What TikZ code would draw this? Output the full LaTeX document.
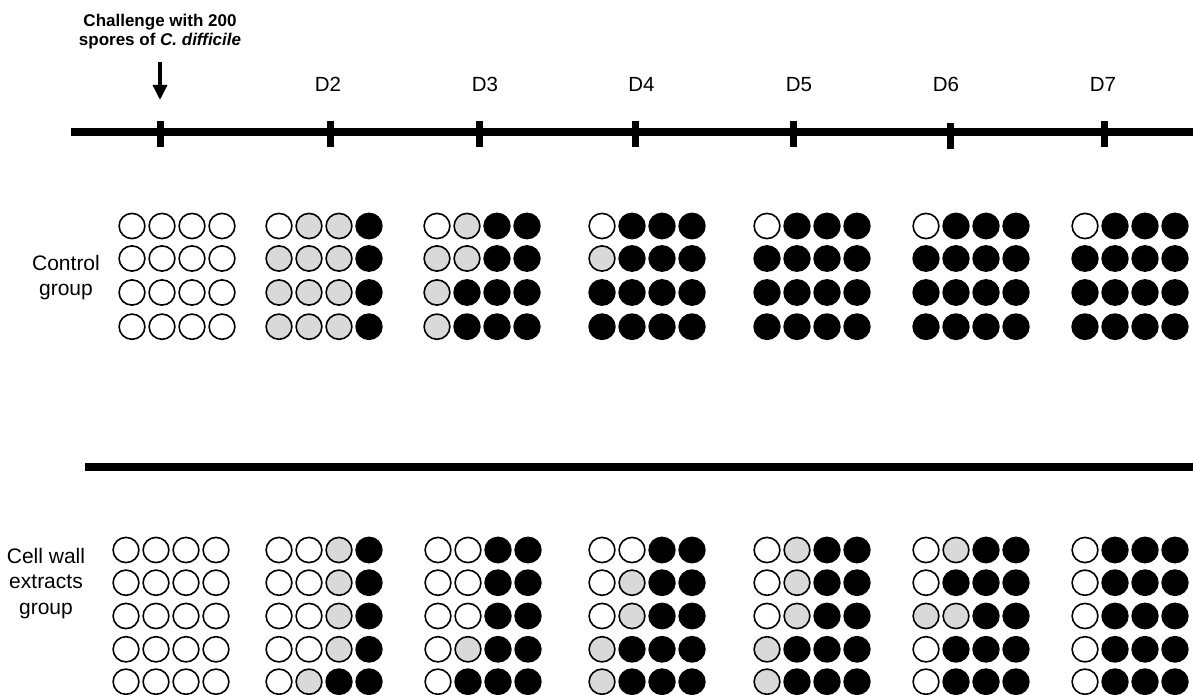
\documentclass[tikz,border=0pt]{standalone}
\usepackage{fontspec}
\setmainfont{Liberation Sans}
\usetikzlibrary{arrows.meta}
\definecolor{cw}{RGB}{255,255,255}
\definecolor{cg}{RGB}{217,217,217}
\definecolor{cb}{RGB}{0,0,0}
\newcommand\mydots[3]{\foreach \cd [count=\ii from 0] in {#3} {\path[spot,fill=c\cd] ({#1+30*\ii},#2) ellipse [x radius=12.9, y radius=12.6];}}
\newcommand\ctrlgrid[5]{\mydots{#1}{226}{#2}\mydots{#1}{258.5}{#3}\mydots{#1}{292.5}{#4}\mydots{#1}{326.7}{#5}}
\newcommand\cwgrid[6]{\mydots{#1}{550}{#2}\mydots{#1}{582.7}{#3}\mydots{#1}{616}{#4}\mydots{#1}{649.3}{#5}\mydots{#1}{681.7}{#6}}
\begin{document}
\begin{tikzpicture}[x=1pt,y=-1pt,
  spot/.style={draw=black,line width=1.6pt},
  axisline/.style={line width=7.5pt},
  tickmark/.style={line width=7pt},
  sepline/.style={line width=8pt},
  challenge/.style={line width=3.5pt,-{Triangle[width=14pt,length=15pt]}},
  dlabel/.style={font=\fontsize{20.5}{24}\selectfont,anchor=base,inner sep=0pt},
  glabel/.style={align=center,inner sep=0pt}]
\useasboundingbox (0,0) rectangle (1193,695);
% title and arrow
\node[font=\bfseries\fontsize{17}{19}\selectfont,align=center,inner sep=0pt] (title) at (160,32) {Challenge with 200\\spores of \textit{C. difficile}};
\coordinate (arrS) at (160,62);
\coordinate (arrE) at (160,100);
\draw[challenge] (arrS) -- (arrE);
% timeline
\coordinate (tlA) at (71,132);
\coordinate (tlB) at (1193,132);
\draw[axisline] (tlA) -- (tlB);
\foreach \tx/\ty [count=\k] in {160/121,330/121,479/121,635/121,793/121,950/123,1104/121}{
  \coordinate (ta\k) at (\tx,\ty);
  \coordinate (tb\k) at (\tx,\ty+26);
  \draw[tickmark] (ta\k) -- (tb\k);
}
\node[dlabel] (d2) at (328,92) {D2};
\node[dlabel] (d3) at (485,92) {D3};
\node[dlabel] (d4) at (641.5,92) {D4};
\node[dlabel] (d5) at (799,92) {D5};
\node[dlabel] (d6) at (946,92) {D6};
\node[dlabel] (d7) at (1103,92) {D7};
% separator
\coordinate (sepA) at (85,467);
\coordinate (sepB) at (1193,467);
\draw[sepline] (sepA) -- (sepB);
% group labels
\node[glabel,font=\fontsize{21}{25}\selectfont] (ctrl) at (66,277.2) {Control\\group};
\node[glabel,font=\fontsize{21}{25.5}\selectfont] (cw) at (46,583.5) {Cell wall\\extracts\\group};
% control group
\ctrlgrid{132}{w,w,w,w}{w,w,w,w}{w,w,w,w}{w,w,w,w}
\ctrlgrid{279}{w,g,g,b}{g,g,g,b}{g,g,g,b}{g,g,g,b}
\ctrlgrid{437}{w,g,b,b}{g,g,b,b}{g,b,b,b}{g,b,b,b}
\ctrlgrid{602}{w,b,b,b}{g,b,b,b}{b,b,b,b}{b,b,b,b}
\ctrlgrid{767}{w,b,b,b}{b,b,b,b}{b,b,b,b}{b,b,b,b}
\ctrlgrid{926}{w,b,b,b}{b,b,b,b}{b,b,b,b}{b,b,b,b}
\ctrlgrid{1085}{w,b,b,b}{b,b,b,b}{b,b,b,b}{b,b,b,b}
% cell wall extracts group
\cwgrid{126}{w,w,w,w}{w,w,w,w}{w,w,w,w}{w,w,w,w}{w,w,w,w}
\cwgrid{279}{w,w,g,b}{w,w,g,b}{w,w,g,b}{w,w,g,b}{w,g,b,b}
\cwgrid{438}{w,w,b,b}{w,w,b,b}{w,w,b,b}{w,g,b,b}{w,b,b,b}
\cwgrid{602}{w,w,b,b}{w,g,b,b}{w,g,b,b}{g,b,b,b}{g,b,b,b}
\cwgrid{767}{w,g,b,b}{w,g,b,b}{w,g,b,b}{g,b,b,b}{g,b,b,b}
\cwgrid{926}{w,g,b,b}{w,b,b,b}{g,g,b,b}{w,b,b,b}{w,b,b,b}
\cwgrid{1085}{w,b,b,b}{w,b,b,b}{w,b,b,b}{w,b,b,b}{w,b,b,b}
\end{tikzpicture}
\end{document}
